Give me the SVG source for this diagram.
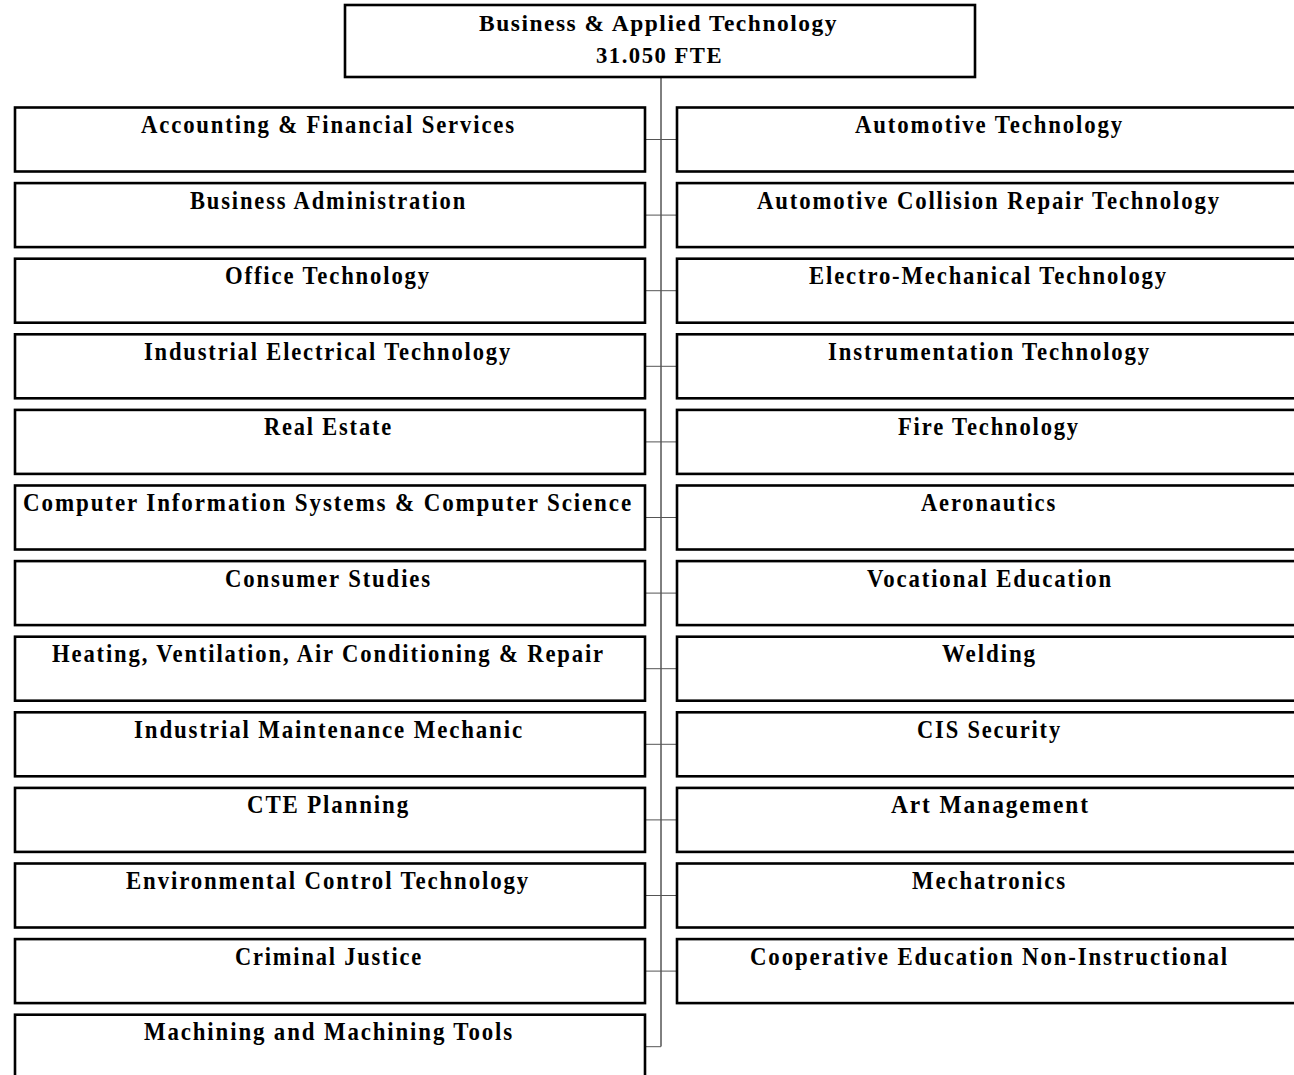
<svg xmlns="http://www.w3.org/2000/svg" width="1294" height="1075" viewBox="0 0 1294 1075">
<style>
  .box{fill:#fff;stroke:#000;stroke-width:2.6}
  .t{font-family:"Liberation Serif","Times New Roman",serif;font-weight:bold;font-size:24.5px;letter-spacing:2px;fill:#000}
  .tt{font-family:"Liberation Serif","Times New Roman",serif;font-weight:bold;font-size:23px;letter-spacing:1.5px;fill:#000}
  .v{stroke:#000;stroke-width:1;fill:none}
  .h{stroke:#555;stroke-width:1;fill:none}
</style>
<rect width="1294" height="1075" fill="#fff"/>
<g id="connectors">
  <line class="v" x1="661" y1="77" x2="661" y2="1046.5"/>
  <line class="h" x1="645" y1="139.5" x2="677" y2="139.5"/>
  <line class="h" x1="645" y1="215.1" x2="677" y2="215.1"/>
  <line class="h" x1="645" y1="290.7" x2="677" y2="290.7"/>
  <line class="h" x1="645" y1="366.3" x2="677" y2="366.3"/>
  <line class="h" x1="645" y1="441.9" x2="677" y2="441.9"/>
  <line class="h" x1="645" y1="517.5" x2="677" y2="517.5"/>
  <line class="h" x1="645" y1="593.1" x2="677" y2="593.1"/>
  <line class="h" x1="645" y1="668.7" x2="677" y2="668.7"/>
  <line class="h" x1="645" y1="744.3" x2="677" y2="744.3"/>
  <line class="h" x1="645" y1="819.9" x2="677" y2="819.9"/>
  <line class="h" x1="645" y1="895.5" x2="677" y2="895.5"/>
  <line class="h" x1="645" y1="971.1" x2="677" y2="971.1"/>
  <line class="h" x1="645" y1="1046.7" x2="661" y2="1046.7"/>
</g>
<g id="top">
  <rect class="box" x="345" y="5" width="630" height="72"/>
  <text class="tt" x="479" y="30.5" textLength="359" lengthAdjust="spacingAndGlyphs">Business &amp; Applied Technology</text>
  <text class="tt" x="596" y="63" textLength="127" lengthAdjust="spacingAndGlyphs">31.050 FTE</text>
</g>
<g id="L1"><rect class="box" x="15" y="107.5" width="630" height="64"/><text class="t" x="141" y="133" textLength="375" lengthAdjust="spacingAndGlyphs">Accounting &amp; Financial Services</text></g>
<g id="L2"><rect class="box" x="15" y="183.1" width="630" height="64"/><text class="t" x="190" y="208.6" textLength="277" lengthAdjust="spacingAndGlyphs">Business Administration</text></g>
<g id="L3"><rect class="box" x="15" y="258.7" width="630" height="64"/><text class="t" x="225" y="284.2" textLength="206" lengthAdjust="spacingAndGlyphs">Office Technology</text></g>
<g id="L4"><rect class="box" x="15" y="334.3" width="630" height="64"/><text class="t" x="144" y="359.8" textLength="368" lengthAdjust="spacingAndGlyphs">Industrial Electrical Technology</text></g>
<g id="L5"><rect class="box" x="15" y="409.9" width="630" height="64"/><text class="t" x="264" y="435.4" textLength="129" lengthAdjust="spacingAndGlyphs">Real Estate</text></g>
<g id="L6"><rect class="box" x="15" y="485.5" width="630" height="64"/><text class="t" x="23" y="511" textLength="610" lengthAdjust="spacingAndGlyphs">Computer Information Systems &amp; Computer Science</text></g>
<g id="L7"><rect class="box" x="15" y="561.1" width="630" height="64"/><text class="t" x="225" y="586.6" textLength="207" lengthAdjust="spacingAndGlyphs">Consumer Studies</text></g>
<g id="L8"><rect class="box" x="15" y="636.7" width="630" height="64"/><text class="t" x="52" y="662.2" textLength="553" lengthAdjust="spacingAndGlyphs">Heating, Ventilation, Air Conditioning &amp; Repair</text></g>
<g id="L9"><rect class="box" x="15" y="712.3" width="630" height="64"/><text class="t" x="134" y="737.8" textLength="390" lengthAdjust="spacingAndGlyphs">Industrial Maintenance Mechanic</text></g>
<g id="L10"><rect class="box" x="15" y="787.9" width="630" height="64"/><text class="t" x="247" y="813.4" textLength="163" lengthAdjust="spacingAndGlyphs">CTE Planning</text></g>
<g id="L11"><rect class="box" x="15" y="863.5" width="630" height="64"/><text class="t" x="126" y="889" textLength="404" lengthAdjust="spacingAndGlyphs">Environmental Control Technology</text></g>
<g id="L12"><rect class="box" x="15" y="939.1" width="630" height="64"/><text class="t" x="235" y="964.6" textLength="188" lengthAdjust="spacingAndGlyphs">Criminal Justice</text></g>
<g id="L13"><rect class="box" x="15" y="1014.7" width="630" height="64"/><text class="t" x="144" y="1040.2" textLength="370" lengthAdjust="spacingAndGlyphs">Machining and Machining Tools</text></g>
<g id="R1"><rect class="box" x="677" y="107.5" width="630" height="64"/><text class="t" x="855" y="133" textLength="269" lengthAdjust="spacingAndGlyphs">Automotive Technology</text></g>
<g id="R2"><rect class="box" x="677" y="183.1" width="630" height="64"/><text class="t" x="757" y="208.6" textLength="464" lengthAdjust="spacingAndGlyphs">Automotive Collision Repair Technology</text></g>
<g id="R3"><rect class="box" x="677" y="258.7" width="630" height="64"/><text class="t" x="809" y="284.2" textLength="359" lengthAdjust="spacingAndGlyphs">Electro-Mechanical Technology</text></g>
<g id="R4"><rect class="box" x="677" y="334.3" width="630" height="64"/><text class="t" x="828" y="359.8" textLength="323" lengthAdjust="spacingAndGlyphs">Instrumentation Technology</text></g>
<g id="R5"><rect class="box" x="677" y="409.9" width="630" height="64"/><text class="t" x="898" y="435.4" textLength="182" lengthAdjust="spacingAndGlyphs">Fire Technology</text></g>
<g id="R6"><rect class="box" x="677" y="485.5" width="630" height="64"/><text class="t" x="921" y="511" textLength="136" lengthAdjust="spacingAndGlyphs">Aeronautics</text></g>
<g id="R7"><rect class="box" x="677" y="561.1" width="630" height="64"/><text class="t" x="867" y="586.6" textLength="246" lengthAdjust="spacingAndGlyphs">Vocational Education</text></g>
<g id="R8"><rect class="box" x="677" y="636.7" width="630" height="64"/><text class="t" x="942" y="662.2" textLength="95" lengthAdjust="spacingAndGlyphs">Welding</text></g>
<g id="R9"><rect class="box" x="677" y="712.3" width="630" height="64"/><text class="t" x="917" y="737.8" textLength="145" lengthAdjust="spacingAndGlyphs">CIS Security</text></g>
<g id="R10"><rect class="box" x="677" y="787.9" width="630" height="64"/><text class="t" x="891" y="813.4" textLength="199" lengthAdjust="spacingAndGlyphs">Art Management</text></g>
<g id="R11"><rect class="box" x="677" y="863.5" width="630" height="64"/><text class="t" x="912" y="889" textLength="155" lengthAdjust="spacingAndGlyphs">Mechatronics</text></g>
<g id="R12"><rect class="box" x="677" y="939.1" width="630" height="64"/><text class="t" x="750" y="964.6" textLength="479" lengthAdjust="spacingAndGlyphs">Cooperative Education Non-Instructional</text></g>
</svg>
